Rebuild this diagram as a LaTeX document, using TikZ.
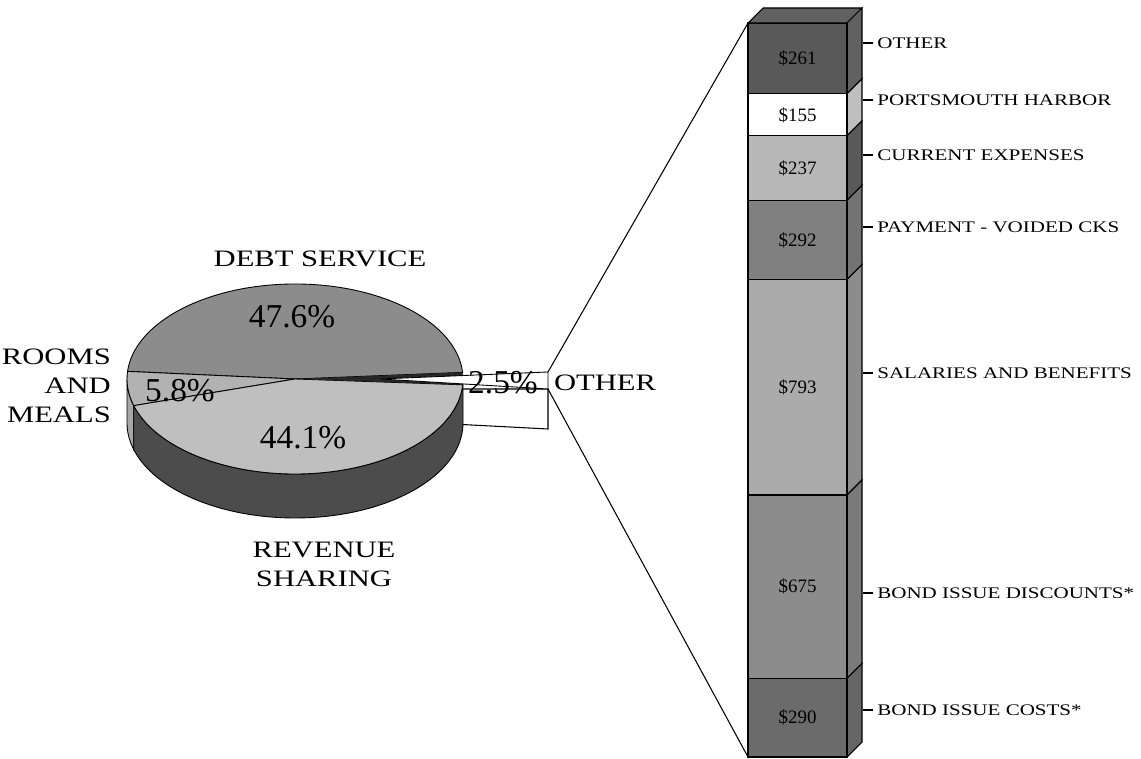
\documentclass[tikz,border=0pt]{standalone}
\usepackage{fontspec}
\setmainfont{Liberation Serif}
\newfontfamily\widefont{Liberation Serif}[FakeStretch=1.3]
\tikzset{
    ring/.style={x radius=168, y radius=95},
    slice/.style={ring, draw, line width=0.5pt},
    seg/.style={draw, line width=0.6pt, minimum width=1.98cm,
                inner sep=0pt, outer sep=0pt,
                font=\fontsize{10.8}{13}\selectfont},
    sideface/.style={draw, line width=0.6pt},
    head/.style={font=\widefont\fontsize{13.4}{16.6}\selectfont, align=center},
    share/.style={font=\fontsize{19}{22}\selectfont, inner sep=0pt},
    tag/.style={font=\widefont\fontsize{9.2}{11}\selectfont,
                anchor=west, inner sep=0pt},
    tick/.style={line width=0.6pt},
    guide/.style={line width=0.6pt},
}

\begin{document}
\begin{tikzpicture}[x=0.02cm, y=0.02cm]
    \path[use as bounding box] (0,0) rectangle (1141,759);

    % pie
    \coordinate (pie) at (295,380);
    \coordinate (tiptop) at (548,387);
    \coordinate (tipbot) at (548,370);

    % pulled out slice, side face behind the pie
    \filldraw[sideface, fill=white] (452,370) -- (tipbot) -- (548,330) -- (452,335) -- cycle;

    \filldraw[slice, fill=black!35] (pie) ++(180:168 and 95)
        arc[start angle=180, end angle=196.3] -- ++(0,-44)
        arc[start angle=196.3, end angle=180] -- cycle;
    \filldraw[slice, fill=black!70] (pie) ++(196.3:168 and 95)
        arc[start angle=196.3, end angle=360] -- ++(0,-44)
        arc[start angle=360, end angle=196.3] -- cycle;

    \filldraw[slice, fill=black!45] (pie) -- ++(4:168 and 95)
        arc[start angle=4, end angle=175.4] -- cycle;
    \filldraw[slice, fill=black!30] (pie) -- ++(175.4:168 and 95)
        arc[start angle=175.4, end angle=196.3] -- cycle;
    \filldraw[slice, fill=black!25] (pie) -- ++(196.3:168 and 95)
        arc[start angle=196.3, end angle=356.5] -- cycle;
    \fill[black!85, ring] (pie) -- ++(356.5:168 and 95)
        arc[start angle=356.5, end angle=364] -- cycle;
    \filldraw[slice, fill=white] (380,380) -- (tiptop) -- (tipbot) -- cycle;

    \node[head] (debt) at (320,500) {DEBT SERVICE};
    \node[head, align=right, anchor=east] (rooms) at (117,373) {ROOMS\\AND\\MEALS};
    \node[head] (revenue) at (324,195) {REVENUE\\SHARING};
    \node[head] (other) at (605,376) {OTHER};
    \node[share] (pdebt) at (292,442) {47.6\%};
    \node[share] (prooms) at (180,368) {5.8\%};
    \node[share] (prevenue) at (303,321) {44.1\%};
    \node[share] (pother) at (503,376) {2.5\%};

    % stacked bar
    \node[seg, fill=black!65, minimum height=1.418cm] (sother) at (797.5,700.55) {\$261};
    \node[seg, fill=white, minimum height=0.842cm] (sharbor) at (797.5,644.05) {\$155};
    \node[seg, fill=black!28, minimum height=1.287cm] (scurrent) at (797.5,590.85) {\$237};
    \node[seg, fill=black!50, minimum height=1.586cm] (svoided) at (797.5,519.05) {\$292};
    \node[seg, fill=black!33, minimum height=4.307cm] (ssalary) at (797.5,371.7) {\$793};
    \node[seg, fill=black!45, minimum height=3.666cm] (sdiscount) at (797.5,172.35) {\$675};
    \node[seg, fill=black!58, minimum height=1.575cm] (scost) at (797.5,41.35) {\$290};

    \filldraw[sideface, fill=black!62] (sother.north west) -- ++(15,15)
        -- ([shift={(15,15)}]sother.north east) -- (sother.north east) -- cycle;
    \filldraw[sideface, fill=black!62] (sother.south east) -- (sother.north east)
        -- ++(15,15) -- ([shift={(15,15)}]sother.south east) -- cycle;
    \filldraw[sideface, fill=black!25] (sharbor.south east) -- (sharbor.north east)
        -- ++(15,15) -- ([shift={(15,15)}]sharbor.south east) -- cycle;
    \filldraw[sideface, fill=black!65] (scurrent.south east) -- (scurrent.north east)
        -- ++(15,15) -- ([shift={(15,15)}]scurrent.south east) -- cycle;
    \filldraw[sideface, fill=black!55] (svoided.south east) -- (svoided.north east)
        -- ++(15,15) -- ([shift={(15,15)}]svoided.south east) -- cycle;
    \filldraw[sideface, fill=black!45] (ssalary.south east) -- (ssalary.north east)
        -- ++(15,15) -- ([shift={(15,15)}]ssalary.south east) -- cycle;
    \filldraw[sideface, fill=black!52] (sdiscount.south east) -- (sdiscount.north east)
        -- ++(15,15) -- ([shift={(15,15)}]sdiscount.south east) -- cycle;
    \filldraw[sideface, fill=black!60] (scost.south east) -- (scost.north east)
        -- ++(15,15) -- ([shift={(15,15)}]scost.south east) -- cycle;
    \draw[line width=1.2pt] (sother.north east) -- (scost.south east);

    \draw[guide] (tiptop) -- (sother.north west);
    \draw[guide] (tipbot) -- (scost.south west);

    % category labels
    \node[tag] (lother) at (877,716) {OTHER};
    \node[tag] (lharbor) at (877,659) {PORTSMOUTH HARBOR};
    \node[tag] (lcurrent) at (877,604) {CURRENT EXPENSES};
    \node[tag] (lvoided) at (877,532) {PAYMENT - VOIDED CKS};
    \node[tag] (lsalary) at (877,386) {SALARIES AND BENEFITS};
    \node[tag] (ldiscount) at (877,166) {BOND ISSUE DISCOUNTS*};
    \node[tag] (lcost) at (877,49) {BOND ISSUE COSTS*};

    \draw[tick] ([xshift=-0.08cm]lother.west) -- ++(-10,0);
    \draw[tick] ([xshift=-0.08cm]lharbor.west) -- ++(-10,0);
    \draw[tick] ([xshift=-0.08cm]lcurrent.west) -- ++(-10,0);
    \draw[tick] ([xshift=-0.08cm]lvoided.west) -- ++(-10,0);
    \draw[tick] ([xshift=-0.08cm]lsalary.west) -- ++(-10,0);
    \draw[tick] ([xshift=-0.08cm]ldiscount.west) -- ++(-10,0);
    \draw[tick] ([xshift=-0.08cm]lcost.west) -- ++(-10,0);
\end{tikzpicture}
\end{document}
